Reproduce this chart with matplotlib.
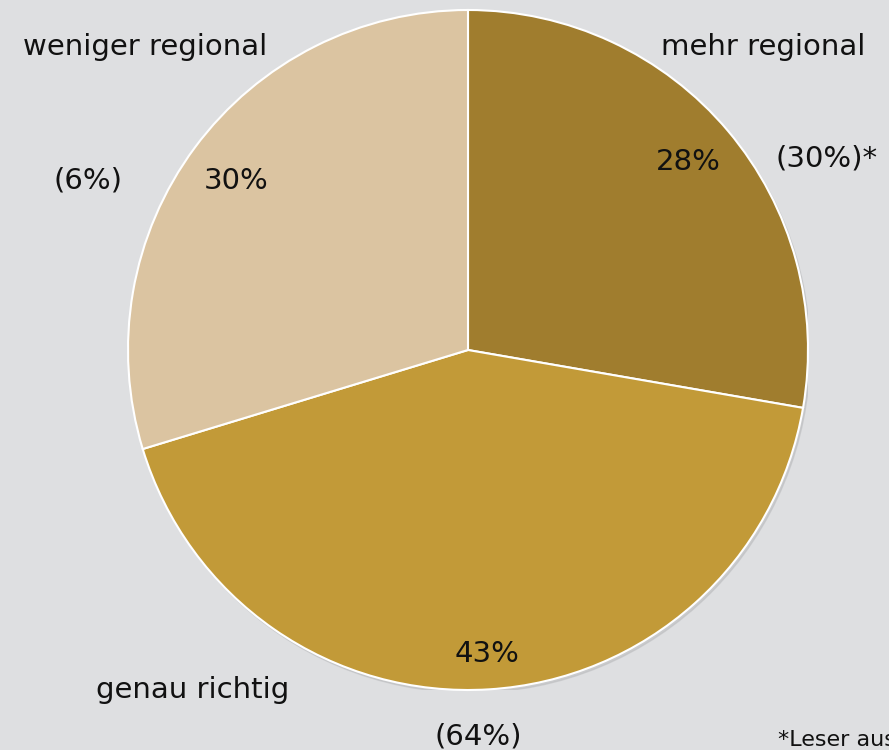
import matplotlib.pyplot as plt
from matplotlib.patches import Circle

# Anteile (im Uhrzeigersinn ab 12 Uhr)
kategorien = ["mehr regional", "genau richtig", "weniger regional"]
anteile = [28, 43, 30]
vorjahr = ["(30%)*", "(64%)", "(6%)"]
farben = ["#A07D2E", "#C29A38", "#DBC4A1"]
fussnote = "*Leser aus der Region"

plt.rcParams['font.family'] = ['DejaVu Sans']
bg = "#DEDFE1"

W, H = 889, 750
fig = plt.figure(figsize=(W / 100, H / 100), dpi=100, facecolor=bg)

cx, cy, r = 468, 350, 340
ax = fig.add_axes([(cx - r) / W, 1 - (cy + r) / H, 2 * r / W, 2 * r / H])
ax.set_facecolor(bg)
ax.axis("off")

# leichter Schatten
ax.add_patch(Circle((0.006, -0.008), 1.0, color="#BDBEC0", alpha=0.6, zorder=0))

ax.pie(anteile, colors=farben, startangle=90, counterclock=False, radius=1.0,
       wedgeprops=dict(edgecolor="white", linewidth=1.5, zorder=1))
ax.set_xlim(-1, 1)
ax.set_ylim(-1, 1)


def px(x, y, s, **kw):
    fig.text(x / W, 1 - y / H, s, fontsize=21, color="#111111", **kw)


# Kategorien
px(763, 47, kategorien[0], ha="center", va="center")
px(193, 690, kategorien[1], ha="center", va="center")
px(145, 47, kategorien[2], ha="center", va="center")

# Prozentwerte
px(688, 162, f"{anteile[0]}%", ha="center", va="center")
px(487, 654, f"{anteile[1]}%", ha="center", va="center")
px(236, 181, f"{anteile[2]}%", ha="center", va="center")

# Vorjahr
px(776, 158, vorjahr[0], ha="left", va="center")
px(478, 736, vorjahr[1], ha="center", va="center")
px(88, 181, vorjahr[2], ha="center", va="center")

fig.text(778 / W, 1 - 740 / H, fussnote, fontsize=16, color="#111111",
         ha="left", va="center")

fig.savefig("out.png", dpi=100, facecolor=bg)
